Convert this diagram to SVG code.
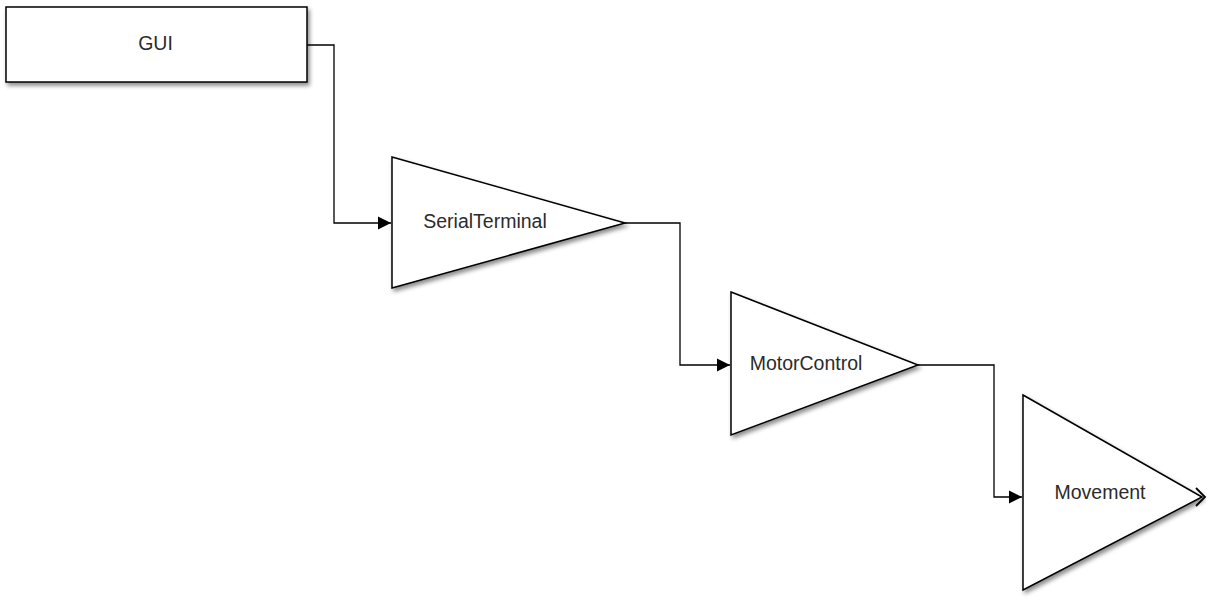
<svg xmlns="http://www.w3.org/2000/svg" width="1207" height="599" viewBox="0 0 1207 599">
<style>
.shape{fill:#fff;stroke:#000;stroke-width:1.5;filter:url(#sh)}
.lbl{font-family:"Liberation Sans",Arial,sans-serif;font-size:19.5px;fill:#2b2b2b;text-anchor:middle}
.wire{fill:none;stroke:#000;stroke-width:1.3}
</style>
<defs>
<filter id="sh" x="-10%" y="-10%" width="130%" height="130%">
<feDropShadow dx="2" dy="3" stdDeviation="2" flood-color="#000" flood-opacity="0.45"/>
</filter>
<marker id="arr" markerWidth="13" markerHeight="14" refX="13" refY="7" orient="auto" markerUnits="userSpaceOnUse">
<path d="M0,0.5 L13,7 L0,13.5 z" fill="#000"/>
</marker>
</defs>
<g id="connectors">
<path class="wire" d="M307,45 H334 V223 H391" marker-end="url(#arr)"/>
<path class="wire" d="M625,223 H680 V365 H730" marker-end="url(#arr)"/>
<path class="wire" d="M918,365 H994 V497 H1022" marker-end="url(#arr)"/>
<path class="wire" d="M1196,488 L1205,497 L1196,506" style="stroke-width:1.8"/>
</g>
<g id="gui">
<rect class="shape" x="6" y="7" width="301" height="75"/>
<text class="lbl" x="155.5" y="50">GUI</text>
</g>
<g id="serialterminal">
<polygon class="shape" points="392,157 625,223 392,288"/>
<text class="lbl" x="485" y="228">SerialTerminal</text>
</g>
<g id="motorcontrol">
<polygon class="shape" points="731,292 918,365 731,435"/>
<text class="lbl" x="806" y="370">MotorControl</text>
</g>
<g id="movement">
<polygon class="shape" points="1023,395 1202,497 1023,590"/>
<text class="lbl" x="1100" y="499">Movement</text>
</g>
</svg>
